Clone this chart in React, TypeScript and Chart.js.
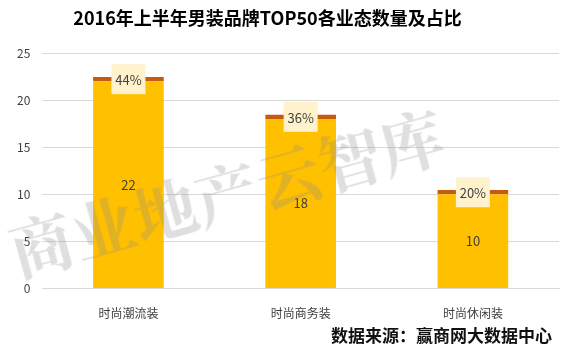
import React, { useEffect, useRef } from "react";
import { Chart, registerables } from "chart.js";

Chart.register(...registerables);

const title = "2016年上半年男装品牌TOP50各业态数量及占比";
const categories = ["时尚潮流装", "时尚商务装", "时尚休闲装"];
const counts = [22, 18, 10];
const caps = [0.45, 0.45, 0.45];
const shares = ["44%", "36%", "20%"];
const yTicksMax = 25;
const yStep = 5;
const watermark = "商业地产云智库";
const source = "数据来源：赢商网大数据中心";

const FONT = "'Noto Sans CJK SC', 'Microsoft YaHei', sans-serif";

const labelPlugin = {
  id: "labels",
  afterDatasetsDraw(chart: any) {
    const ctx = chart.ctx;
    const m0 = chart.getDatasetMeta(0);
    const m1 = chart.getDatasetMeta(1);
    ctx.save();
    ctx.textAlign = "center";
    ctx.textBaseline = "middle";
    ctx.font = `13px ${FONT}`;
    m0.data.forEach((el: any, i: number) => {
      const p = el.getProps(["x", "y", "base"], true);
      ctx.fillStyle = "#404040";
      ctx.fillText(String(counts[i]), p.x, (p.y + p.base) / 2);
    });
    m1.data.forEach((el: any, i: number) => {
      const p = el.getProps(["x", "y", "base"], true);
      const cy = (p.y + p.base) / 2;
      ctx.fillStyle = "#FFF2CC";
      ctx.fillRect(p.x - 17, cy - 15, 34, 30);
      ctx.fillStyle = "#404040";
      ctx.fillText(shares[i], p.x, cy + 1);
    });
    ctx.restore();
  },
};

export default function App() {
  const ref = useRef<HTMLCanvasElement>(null);
  useEffect(() => {
    if (!ref.current) return;
    const chart = new Chart(ref.current, {
      type: "bar",
      data: {
        labels: categories,
        datasets: [
          {
            data: counts,
            backgroundColor: "#FFC000",
            categoryPercentage: 1,
            barPercentage: 0.41,
            stack: "s",
          },
          {
            data: caps,
            backgroundColor: "#C55A11",
            categoryPercentage: 1,
            barPercentage: 0.41,
            stack: "s",
          },
        ],
      },
      options: {
        animation: false,
        responsive: false,
        maintainAspectRatio: false,
        layout: { padding: { top: 53, left: 5, right: 3, bottom: 22 } },
        plugins: {
          legend: { display: false },
          tooltip: { enabled: false },
          title: { display: false },
        },
        scales: {
          x: {
            stacked: true,
            grid: { display: false },
            border: { color: "#d9d9d9" },
            ticks: { color: "#404040", font: { family: FONT, size: 12 }, padding: 10 },
          },
          y: {
            stacked: true,
            min: 0,
            max: yTicksMax,
            ticks: { stepSize: yStep, color: "#404040", font: { family: FONT, size: 12 }, padding: 12 },
            grid: { color: "#d9d9d9", drawTicks: false },
            border: { display: false },
          },
        },
      },
      plugins: [labelPlugin],
    });
    return () => chart.destroy();
  }, []);

  return (
    <div style={{ position: "fixed", left: 0, top: 0, width: 562, height: 353, background: "#fff", overflow: "hidden" }}>
      <canvas ref={ref} width={562} height={353} style={{ position: "absolute", left: 0, top: 0 }} />
      <div
        style={{
          position: "absolute",
          left: 0,
          width: 535,
          top: 4,
          textAlign: "center",
          font: `bold 18px ${FONT}`,
          color: "#000",
          whiteSpace: "nowrap",
        }}
      >
        {title}
      </div>
      <div
        style={{
          position: "absolute",
          left: 10,
          top: 204,
          font: `bold 64px 'Noto Serif CJK SC', ${FONT}`,
          color: "rgba(140,140,140,0.28)",
          whiteSpace: "nowrap",
          transform: "rotate(-15.5deg)",
          transformOrigin: "0 50%",
          letterSpacing: 0,
          pointerEvents: "none",
        }}
      >
        {watermark}
      </div>
      <div
        style={{
          position: "absolute",
          left: 331,
          top: 322,
          font: `bold 17px ${FONT}`,
          color: "#111",
          whiteSpace: "nowrap",
        }}
      >
        {source}
      </div>
    </div>
  );
}
